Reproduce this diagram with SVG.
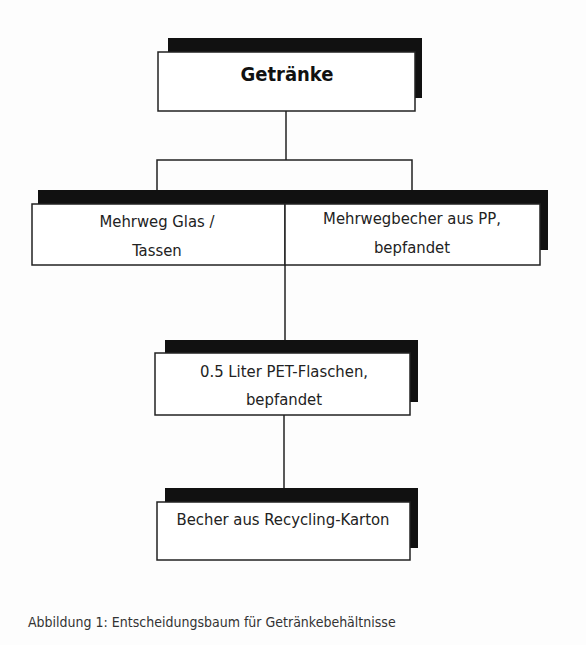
<svg xmlns="http://www.w3.org/2000/svg" width="586" height="645" viewBox="0 0 586 645">
<style>
.sh{fill:#111;}
.bx{fill:#fff;stroke:#222;stroke-width:1.5;}
.ln{stroke:#222;stroke-width:1.5;fill:none;}
.t{font-family:"DejaVu Sans Condensed","Liberation Sans",sans-serif;font-size:16.5px;fill:#222;text-anchor:middle;}
.tb{font-family:"DejaVu Sans Condensed","Liberation Sans",sans-serif;font-size:20px;font-weight:bold;fill:#111;text-anchor:middle;}
.cap{font-family:"DejaVu Sans Condensed","Liberation Sans",sans-serif;font-size:14px;fill:#333;}
</style>
<rect width="586" height="645" fill="#fdfdfd"/>
<g id="connectors">
<line class="ln" x1="286" y1="111" x2="286" y2="160"/>
<path class="ln" d="M157,192 V160 H412 V192"/>
<line class="ln" x1="285" y1="265" x2="285" y2="342"/>
<line class="ln" x1="284" y1="415" x2="284" y2="490"/>
</g>
<g id="n-getraenke">
<rect class="sh" x="168" y="38" width="254" height="60"/>
<rect class="bx" x="158" y="52" width="257" height="59"/>
<text class="tb" x="287" y="81">Getränke</text>
</g>
<g id="row2-shadow">
<rect class="sh" x="38" y="190" width="510" height="60"/>
</g>
<g id="n-glas">
<rect class="bx" x="32" y="204" width="253" height="61"/>
<text class="t" x="157" y="227">Mehrweg Glas /</text>
<text class="t" x="157" y="256">Tassen</text>
</g>
<g id="n-pp">
<rect class="bx" x="285" y="204" width="255" height="61"/>
<text class="t" x="412" y="224">Mehrwegbecher aus PP,</text>
<text class="t" x="412" y="253">bepfandet</text>
</g>
<g id="n-pet">
<rect class="sh" x="165" y="340" width="253" height="62"/>
<rect class="bx" x="155" y="353" width="255" height="62"/>
<text class="t" x="284" y="377">0.5 Liter PET-Flaschen,</text>
<text class="t" x="284" y="405">bepfandet</text>
</g>
<g id="n-karton">
<rect class="sh" x="165" y="488" width="253" height="60"/>
<rect class="bx" x="157" y="502" width="253" height="58"/>
<text class="t" x="283" y="525">Becher aus Recycling-Karton</text>
</g>
<text class="cap" x="28" y="627">Abbildung 1: Entscheidungsbaum für Getränkebehältnisse</text>
</svg>
